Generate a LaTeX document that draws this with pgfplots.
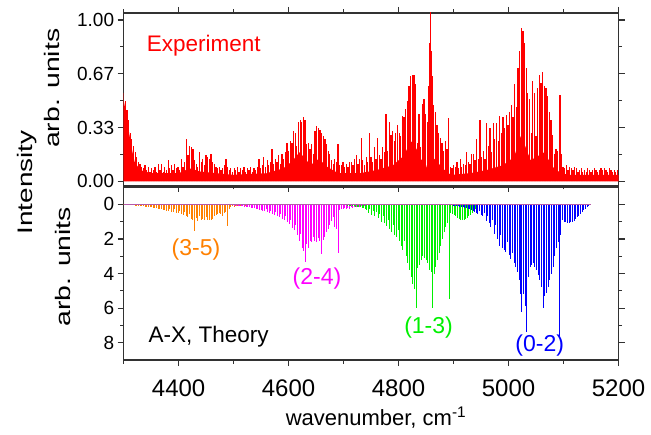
\documentclass[border=0pt]{standalone}
\usepackage{fontspec}
\setmainfont{Liberation Sans}
\usepackage{graphicx}
\usepackage{pgfplots}
\pgfplotsset{compat=1.18}
\definecolor{cOrange}{RGB}{255,128,0}
\definecolor{cMag}{RGB}{255,0,255}
\definecolor{cGreen}{RGB}{0,240,0}
\definecolor{cBlue}{RGB}{0,0,255}
\definecolor{cAxis}{RGB}{50,50,50}
\definecolor{cBase}{RGB}{180,90,170}
\newcommand{\fs}[1]{\fontsize{#1}{#1}\selectfont}
\pgfplotsset{
  myax/.style={
    scale only axis, width=495bp, height=173bp,
    xmin=4300, xmax=5200,
    tick align=outside,
    axis line style={cAxis, line width=1.2bp},
    every tick/.append style={cAxis, line width=1.2bp},
    major tick length=6bp, minor tick length=3.5bp,
    xtick={4400,4600,4800,5000,5200},
    minor xtick={4300,4500,4700,4900,5100},
    yticklabel style={font=\fs{19bp}},
    xticklabel style={font=\fs{24bp}, yshift=-10bp},
    clip=true,
  }
}
\begin{document}
\begin{tikzpicture}
\useasboundingbox (0,0) rectangle (651bp,435bp);
% ---------- top: experiment ----------
\begin{axis}[myax, anchor=south west, at={(123.6bp,249bp)},
  ymin=-0.029, ymax=1.043,
  ytick={0,0.3333,0.6667,1}, yticklabels={0.00,0.33,0.67,1.00},
  minor ytick={0.1667,0.5,0.8333}, xticklabels={}]
% dense noise floor of the recorded spectrum
\addplot[fill=red, draw=none, no markers] coordinates {
(4300,0.50)(4305,0.42)(4310,0.30)(4315,0.20)(4320,0.12)(4330,0.07)(4350,0.05)(4400,0.05)(4420,0.08)(4440,0.06)
(4470,0.05)(4500,0.04)(4560,0.05)(4590,0.08)(4605,0.12)(4620,0.18)(4630,0.14)(4640,0.10)(4655,0.14)(4670,0.09)
(4690,0.05)(4730,0.05)(4760,0.07)(4790,0.10)(4810,0.16)(4822,0.25)(4830,0.22)(4840,0.14)(4850,0.10)(4855,0.04)
(4857,0.00)(4860,0.12)(4866,0.14)(4880,0.08)(4895,0.04)(4930,0.05)(4960,0.07)(4990,0.10)(5010,0.15)(5022,0.28)
(5030,0.22)(5040,0.13)(5055,0.16)(5065,0.18)(5080,0.09)(5095,0.05)(5110,0.04)(5200,0.04)
} \closedcycle;
\addplot[ycomb, draw=red, line width=1.25bp, no markers] coordinates {
(4300,0.55)(4303,0.50)(4306,0.44)(4309,0.38)(4312,0.30)(4315,0.26)(4318,0.22)(4321,0.18)(4324,0.15)(4327,0.12)
(4330,0.11)(4333,0.09)(4336,0.08)(4339,0.10)(4342,0.07)(4345,0.09)(4348,0.06)(4351,0.08)(4354,0.07)(4357,0.09)
(4360,0.06)(4363,0.11)(4366,0.07)(4369,0.11)(4372,0.06)(4375,0.09)(4378,0.07)(4381,0.13)(4384,0.08)(4387,0.10)
(4390,0.07)(4393,0.11)(4396,0.08)(4399,0.09)(4402,0.07)(4405,0.14)(4408,0.09)(4411,0.12)(4414,0.26)(4417,0.16)
(4420,0.22)(4423,0.21)(4426,0.20)(4429,0.13)(4432,0.11)(4435,0.09)(4438,0.18)(4441,0.12)(4444,0.14)(4447,0.10)
(4450,0.16)(4453,0.15)(4456,0.14)(4459,0.17)(4462,0.12)(4465,0.11)(4468,0.09)(4471,0.08)(4474,0.09)(4477,0.07)
(4480,0.08)(4483,0.10)(4486,0.14)(4489,0.09)(4492,0.07)(4495,0.08)(4498,0.06)(4501,0.08)(4504,0.07)(4507,0.09)
(4510,0.06)(4513,0.08)(4516,0.07)(4519,0.09)(4522,0.06)(4525,0.08)(4528,0.07)(4531,0.09)(4534,0.06)(4537,0.08)
(4540,0.07)(4543,0.09)(4546,0.14)(4549,0.08)(4552,0.10)(4555,0.15)(4558,0.09)(4561,0.13)(4564,0.10)(4567,0.12)
(4570,0.20)(4573,0.11)(4576,0.14)(4579,0.12)(4582,0.16)(4585,0.11)(4588,0.17)(4591,0.14)(4594,0.18)(4597,0.24)
(4600,0.19)(4603,0.25)(4606,0.24)(4609,0.31)(4612,0.30)(4615,0.22)(4618,0.37)(4621,0.38)(4624,0.37)(4627,0.40)
(4630,0.38)(4633,0.23)(4636,0.24)(4639,0.20)(4642,0.23)(4645,0.17)(4648,0.31)(4651,0.34)(4654,0.33)(4657,0.32)
(4660,0.30)(4663,0.28)(4666,0.26)(4669,0.23)(4672,0.19)(4675,0.17)(4678,0.13)(4681,0.11)(4684,0.14)(4687,0.12)
(4690,0.23)(4693,0.10)(4696,0.10)(4699,0.12)(4702,0.09)(4705,0.11)(4708,0.09)(4711,0.12)(4714,0.12)(4717,0.10)
(4720,0.14)(4723,0.16)(4726,0.11)(4729,0.14)(4732,0.27)(4735,0.13)(4738,0.10)(4741,0.15)(4744,0.12)(4747,0.30)
(4750,0.15)(4753,0.12)(4756,0.21)(4759,0.14)(4762,0.27)(4765,0.16)(4768,0.14)(4771,0.21)(4774,0.18)(4777,0.415)
(4780,0.19)(4783,0.37)(4786,0.29)(4789,0.31)(4792,0.25)(4795,0.30)(4798,0.35)(4801,0.30)(4804,0.28)(4807,0.405)
(4810,0.40)(4813,0.45)(4816,0.50)(4819,0.59)(4822,0.65)(4825,0.66)(4828,0.66)(4831,0.60)(4834,0.24)(4837,0.415)
(4840,0.21)(4843,0.48)(4846,0.51)(4849,0.42)(4852,0.37)(4855,0.59)(4856.5,0.86)(4857.7,1.10)(4859.3,0.81)(4861,0.65)
(4864,0.47)(4867,0.43)(4870,0.35)(4873,0.30)(4876,0.27)(4879,0.24)(4882,0.19)(4885,0.25)(4888,0.20)(4891,0.395)
(4894,0.09)(4897,0.08)(4900,0.10)(4903,0.09)(4906,0.12)(4909,0.08)(4912,0.14)(4915,0.09)(4918,0.11)(4921,0.10)
(4924,0.18)(4927,0.12)(4930,0.11)(4933,0.17)(4936,0.17)(4939,0.13)(4942,0.26)(4945,0.14)(4948,0.38)(4951,0.15)
(4954,0.19)(4957,0.14)(4960,0.36)(4963,0.22)(4966,0.33)(4969,0.18)(4972,0.36)(4975,0.26)(4978,0.36)(4981,0.25)
(4984,0.405)(4987,0.30)(4990,0.40)(4993,0.33)(4996,0.41)(4999,0.35)(5002,0.43)(5005,0.47)(5008,0.40)(5011,0.60)
(5014,0.46)(5017,0.70)(5020,0.81)(5023,0.95)(5026,0.93)(5029,0.86)(5032,0.70)(5035,0.55)(5038,0.51)(5041,0.30)
(5044,0.62)(5047,0.55)(5050,0.28)(5053,0.58)(5056,0.66)(5059,0.61)(5062,0.68)(5065,0.59)(5068,0.58)(5071,0.53)
(5074,0.43)(5077,0.38)(5080,0.29)(5083,0.17)(5086,0.20)(5089,0.19)(5092,0.32)(5093.5,0.535)(5096,0.17)(5099,0.09)
(5102,0.08)(5105,0.10)(5108,0.07)(5111,0.09)(5114,0.08)(5117,0.07)(5120,0.09)(5123,0.08)(5126,0.06)(5129,0.07)
(5132,0.08)(5135,0.06)(5138,0.07)(5141,0.06)(5144,0.08)(5147,0.07)(5150,0.06)(5153,0.07)(5156,0.08)(5159,0.07)
(5162,0.06)(5165,0.07)(5168,0.08)(5171,0.07)(5174,0.08)(5177,0.07)(5180,0.06)(5183,0.08)(5186,0.07)(5189,0.06)
(5192,0.07)(5195,0.06)(5198,0.07)
};
\node[anchor=base west, text=red, font=\fs{22.5bp}, inner sep=0pt] at (axis cs:4342,0.803) {Experiment};
\end{axis}
% ---------- bottom: theory ----------
\begin{axis}[myax, anchor=south west, at={(123.6bp,75bp)},
  y dir=reverse, ymin=-1, ymax=9,
  ytick={0,2,4,6,8}, yticklabels={0,2,4,6,8}, minor ytick={1,3,5,7},
  xticklabels={4400,4600,4800,5000,5200}, xtick pos=left]
\addplot[ycomb, draw=cOrange, line width=1bp, no markers] coordinates {
(4300,0.02)(4303,0.03)(4306,0.03)(4309,0.04)(4312,0.05)(4315,0.05)(4318,0.06)(4321,0.07)(4324,0.08)(4327,0.09)
(4330,0.10)(4333,0.11)(4336,0.12)(4339,0.13)(4342,0.14)(4345,0.15)(4348,0.17)(4351,0.18)(4354,0.20)(4357,0.21)
(4360,0.23)(4363,0.25)(4366,0.27)(4369,0.29)(4372,0.31)(4375,0.33)(4378,0.36)(4381,0.38)(4384,0.28)(4387,0.42)
(4390,0.45)(4393,0.30)(4396,0.50)(4399,0.53)(4402,0.36)(4405,0.58)(4408,0.62)(4411,0.45)(4414,0.70)(4417,0.75)
(4420,0.55)(4423,0.85)(4426,0.92)(4429,1.52)(4432,0.80)(4435,0.95)(4438,0.70)(4441,0.90)(4444,0.85)(4447,0.93)
(4450,0.75)(4453,0.90)(4456,0.92)(4459,0.88)(4462,0.85)(4465,0.70)(4468,0.60)(4471,0.55)(4474,0.50)(4477,0.55)
(4480,0.65)(4483,0.50)(4486,0.42)(4489,1.28)(4492,0.25)(4495,0.15)(4498,0.12)(4501,0.14)(4504,0.10)(4507,0.12)
(4510,0.09)(4513,0.10)(4516,0.08)(4519,0.09)(4522,0.07)(4525,0.06)(4528,0.05)
};
\addplot[ycomb, draw=cMag, line width=1bp, no markers] coordinates {
(4496,0.05)(4499,0.06)(4502,0.07)(4505,0.08)(4508,0.09)(4511,0.10)(4514,0.11)(4517,0.12)(4520,0.14)(4523,0.15)
(4526,0.17)(4529,0.18)(4532,0.20)(4535,0.22)(4538,0.24)(4541,0.26)(4544,0.28)(4547,0.31)(4550,0.33)(4553,0.36)
(4556,0.39)(4559,0.30)(4562,0.45)(4565,0.48)(4568,0.36)(4571,0.55)(4574,0.60)(4577,0.45)(4580,0.68)(4583,0.74)
(4586,0.55)(4589,0.85)(4592,0.92)(4595,0.70)(4598,1.05)(4601,1.15)(4604,0.90)(4607,1.35)(4610,1.50)(4613,1.20)
(4616,1.80)(4619,2.10)(4622,1.70)(4625,2.50)(4628,2.70)(4630,3.34)(4633,2.30)(4636,2.50)(4639,2.10)(4642,2.20)
(4645,1.90)(4648,2.10)(4651,2.20)(4654,1.95)(4657,2.15)(4660,2.85)(4663,2.05)(4666,1.90)(4669,1.60)(4672,1.40)
(4675,1.20)(4678,0.95)(4681,0.75)(4684,1.30)(4687,1.40)(4690,2.82)(4693,0.35)(4696,0.25)(4699,0.30)(4702,0.22)
(4705,0.28)(4708,0.20)(4711,0.25)(4714,0.18)(4717,0.22)(4720,0.15)(4723,0.18)(4726,0.12)(4729,0.15)(4732,0.10)
(4735,0.12)(4738,0.08)(4741,0.07)(4744,0.05)
};
\addplot[ycomb, draw=cGreen, line width=1bp, no markers] coordinates {
(4701,0.05)(4704,0.06)(4707,0.07)(4710,0.08)(4713,0.09)(4716,0.10)(4719,0.12)(4722,0.13)(4725,0.15)(4728,0.16)
(4731,0.18)(4734,0.20)(4737,0.22)(4740,0.25)(4742,0.35)(4745,0.50)(4748,0.30)(4751,0.60)(4754,0.40)(4757,0.70)
(4760,0.45)(4763,0.80)(4766,0.55)(4769,1.00)(4772,0.65)(4775,1.10)(4778,1.25)(4781,0.90)(4784,1.40)(4787,1.60)
(4790,1.20)(4793,1.75)(4796,1.90)(4799,1.50)(4802,2.15)(4805,2.40)(4808,2.65)(4811,2.10)(4814,3.00)(4817,3.40)
(4820,3.80)(4823,4.20)(4826,4.60)(4829,4.90)(4832,6.00)(4835,3.70)(4838,3.50)(4841,3.20)(4844,3.00)(4847,3.10)
(4850,3.20)(4853,3.40)(4856,3.80)(4859,3.90)(4862,6.00)(4865,4.00)(4868,3.60)(4871,3.20)(4874,2.80)(4877,2.40)
(4880,2.00)(4883,1.60)(4886,1.30)(4889,1.10)(4892,5.45)(4895,0.50)(4898,0.55)(4901,0.60)(4904,0.70)(4907,0.80)
(4910,0.85)(4913,0.90)(4916,0.92)(4919,0.90)(4922,0.85)(4925,0.80)(4928,0.70)(4931,0.60)(4934,0.50)(4937,0.40)
(4940,0.30)(4943,0.20)
};
\addplot[ycomb, draw=cBlue, line width=1bp, no markers] coordinates {
(4893.5,0.05)(4896.5,0.06)(4899.5,0.07)(4902.5,0.08)(4905.5,0.10)(4908.5,0.12)(4911.5,0.14)(4914.5,0.16)(4917.5,0.18)(4920.5,0.21)
(4923.5,0.24)(4926.5,0.27)(4929.5,0.30)(4932.5,0.34)(4935.5,0.38)(4938.5,0.42)(4941,0.50)(4944,0.55)(4947,0.40)(4950,0.62)
(4953,0.70)(4956,0.50)(4959,0.95)(4962,0.70)(4965,1.10)(4968,1.30)(4971,0.90)(4974,1.70)(4977,1.20)(4980,2.00)
(4983,2.40)(4986,1.80)(4989,2.55)(4992,2.65)(4995,2.75)(4998,2.20)(5001,2.95)(5004,3.15)(5007,2.80)(5010,3.40)
(5013,3.60)(5016,3.90)(5019,4.40)(5022,5.20)(5024,6.22)(5027,5.20)(5030,5.90)(5033,7.40)(5036,4.20)(5039,3.60)
(5042,3.50)(5045,3.40)(5048,3.60)(5051,3.80)(5054,4.10)(5057,4.40)(5060,4.80)(5063,6.00)(5066,5.30)(5069,5.10)
(5072,4.80)(5075,4.40)(5078,4.00)(5081,3.60)(5084,3.00)(5087,2.50)(5090,2.20)(5092,7.66)(5095,1.80)(5098,0.90)
(5101,1.00)(5104,1.05)(5107,1.10)(5110,1.10)(5113,1.05)(5116,1.00)(5119,0.95)(5122,0.85)(5125,0.75)(5128,0.65)
(5131,0.55)(5134,0.45)(5137,0.35)(5140,0.25)(5143,0.18)(5146,0.10)(5149,0.05)
};
\addplot[cBase, line width=1bp, no markers] coordinates {(4300,0) (5150,0)};
\node[anchor=base west, text=black, font=\fs{22.5bp}, inner sep=0pt] at (axis cs:4345,7.98) {A-X, Theory};
\node[anchor=base west, text=cOrange, font=\fs{23bp}, inner sep=0pt] at (axis cs:4387,2.94) {(3-5)};
\node[anchor=base west, text=cMag, font=\fs{23bp}, inner sep=0pt] at (axis cs:4607,4.62) {(2-4)};
\node[anchor=base west, text=cGreen, font=\fs{23bp}, inner sep=0pt] at (axis cs:4810,7.46) {(1-3)};
\node[anchor=base west, text=cBlue, font=\fs{23bp}, inner sep=0pt] at (axis cs:5012,8.52) {(0-2)};
\end{axis}
% ---------- axis titles ----------
\node[rotate=90, font=\fs{21bp}, inner sep=0pt] at (27.5bp,252.5bp) {\scalebox{1.33}[1]{Intensity}};
\node[rotate=90, font=\fs{21bp}, inner sep=0pt] at (51.7bp,346.7bp) {\scalebox{1.35}[1]{arb. units}};
\node[rotate=90, font=\fs{21bp}, inner sep=0pt] at (62.5bp,168.3bp) {\scalebox{1.35}[1]{arb. units}};
\node[anchor=base, font=\fs{22bp}, inner sep=0pt] at (376bp,10bp) {wavenumber, cm\textsuperscript{-1}};
\end{tikzpicture}
\end{document}
